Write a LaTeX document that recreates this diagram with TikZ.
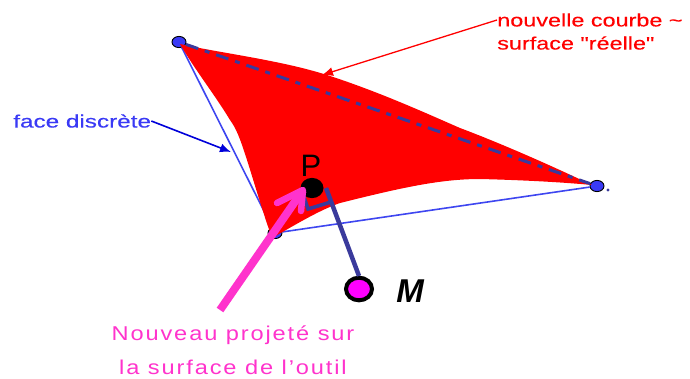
\documentclass[tikz,border=0pt]{standalone}
\usepackage{fontspec}
\setmainfont{Liberation Sans}
\newfontfamily\plainsans[FakeBold=0.25]{Liberation Sans}
\newfontfamily\spaced[LetterSpace=8]{Liberation Sans}
\usetikzlibrary{arrows.meta}
\definecolor{vblue}{HTML}{3A3AF5}
\definecolor{dblue}{HTML}{3A3A9C}
\definecolor{lblue}{HTML}{3E46F0}
\definecolor{pinkm}{HTML}{FF33CC}
\definecolor{puremag}{HTML}{FF00FF}
\tikzset{
  x=1pt,y=-1pt,
  vertex/.style={circle,draw=black,fill=vblue,line width=0.9pt,minimum width=14pt,inner sep=0pt,yscale=0.8},
  edgeline/.style={lblue,line width=1.6pt},
  redtext/.style={text=red,font=\plainsans\fontsize{18}{22}\selectfont,anchor=west,inner sep=0pt,xscale=1.3},
  pinktext/.style={text=pinkm,font=\spaced\fontsize{20}{24}\selectfont,inner sep=0pt,xscale=1.18},
}
\begin{document}
\begin{tikzpicture}
\useasboundingbox (0,0) rectangle (690,378);
% vertices
\node[vertex] (A) at (179,42) {};
\node[vertex] (B) at (275,233) {};
\node[vertex] (C) at (597,186) {};
\fill[dblue] (608,190) circle (1.6);
% discrete face
\draw[edgeline] (A) -- (B);
\draw[edgeline] (B) -- (C);
% red surface
\fill[red] (180,44)
  .. controls (220,53) and (280,60) .. (327,75)
  .. controls (380,92) and (430,115) .. (460,128)
  .. controls (500,143) and (550,165) .. (592,185)
  .. controls (560,182) and (520,180) .. (480,179)
  .. controls (440,179) and (400,188) .. (340,203)
  .. controls (320,210) and (300,222) .. (272,238)
  .. controls (262,210) and (255,185) .. (247,160)
  .. controls (240,138) and (236,128) .. (230,120)
  .. controls (215,95) and (195,70) .. (180,44) -- cycle;
% dash-dot chord
\draw[dblue,line width=3pt,dash pattern=on 13pt off 7pt on 5pt off 7pt] (A) -- (C);
% labels
\node[redtext] (nc) at (497,20) {nouvelle courbe \symbol{126}};
\node[redtext] (sr) at (497,43) {surface \symbol{34}réelle\symbol{34}};
\coordinate (ncend) at (322,75);
\draw[red,line width=1.3pt,-{Latex[length=11pt,width=9pt]}] (nc.west) -- (ncend);
\node[text=vblue,font=\plainsans\fontsize{18}{22}\selectfont,inner sep=0pt,anchor=west,xscale=1.35] (fd) at (13,121) {face discrète};
\coordinate (fdend) at (231,152);
\draw[blue!85!black,line width=1.6pt,-{Latex[length=11pt,width=9pt]}] (fd.east) -- (fdend);
% projection
\node[circle,fill=black,minimum width=23pt,inner sep=0pt,yscale=0.88] (P) at (312,188) {};
\node[font=\fontsize{31}{35}\selectfont,inner sep=0pt] (Pl) at (311,166) {P};
\node[circle,draw=black,line width=4pt,fill=puremag,minimum width=26pt,inner sep=0pt,yscale=0.87] (M) at (359,289) {};
\node[font=\bfseries\itshape\fontsize{33}{37}\selectfont,inner sep=0pt] (Ml) at (410,291) {M};
\coordinate (foot) at (326,188);
\draw[dblue,line width=4.5pt] (M.north) -- (foot);
\coordinate (sq1) at (301,188);
\coordinate (sq2) at (308,209);
\coordinate (sq3) at (331,202);
\draw[dblue,line width=3.6pt] (sq1) -- (sq2) -- (sq3);
% pink arrow
\coordinate (ptail) at (220,310);
\coordinate (ptip) at (303,190);
\coordinate (pw1) at (277,203);
\coordinate (pw2) at (301,211);
\draw[pinkm,line width=8pt] (ptail) -- (ptip);
\draw[pinkm,line width=6.5pt,line cap=round,line join=round] (pw1) -- (ptip) -- (pw2);
\node[pinktext] (t1) at (233,335) {Nouveau projeté sur};
\node[pinktext] (t2) at (233,367) {la surface de l’outil};
\end{tikzpicture}
\end{document}
